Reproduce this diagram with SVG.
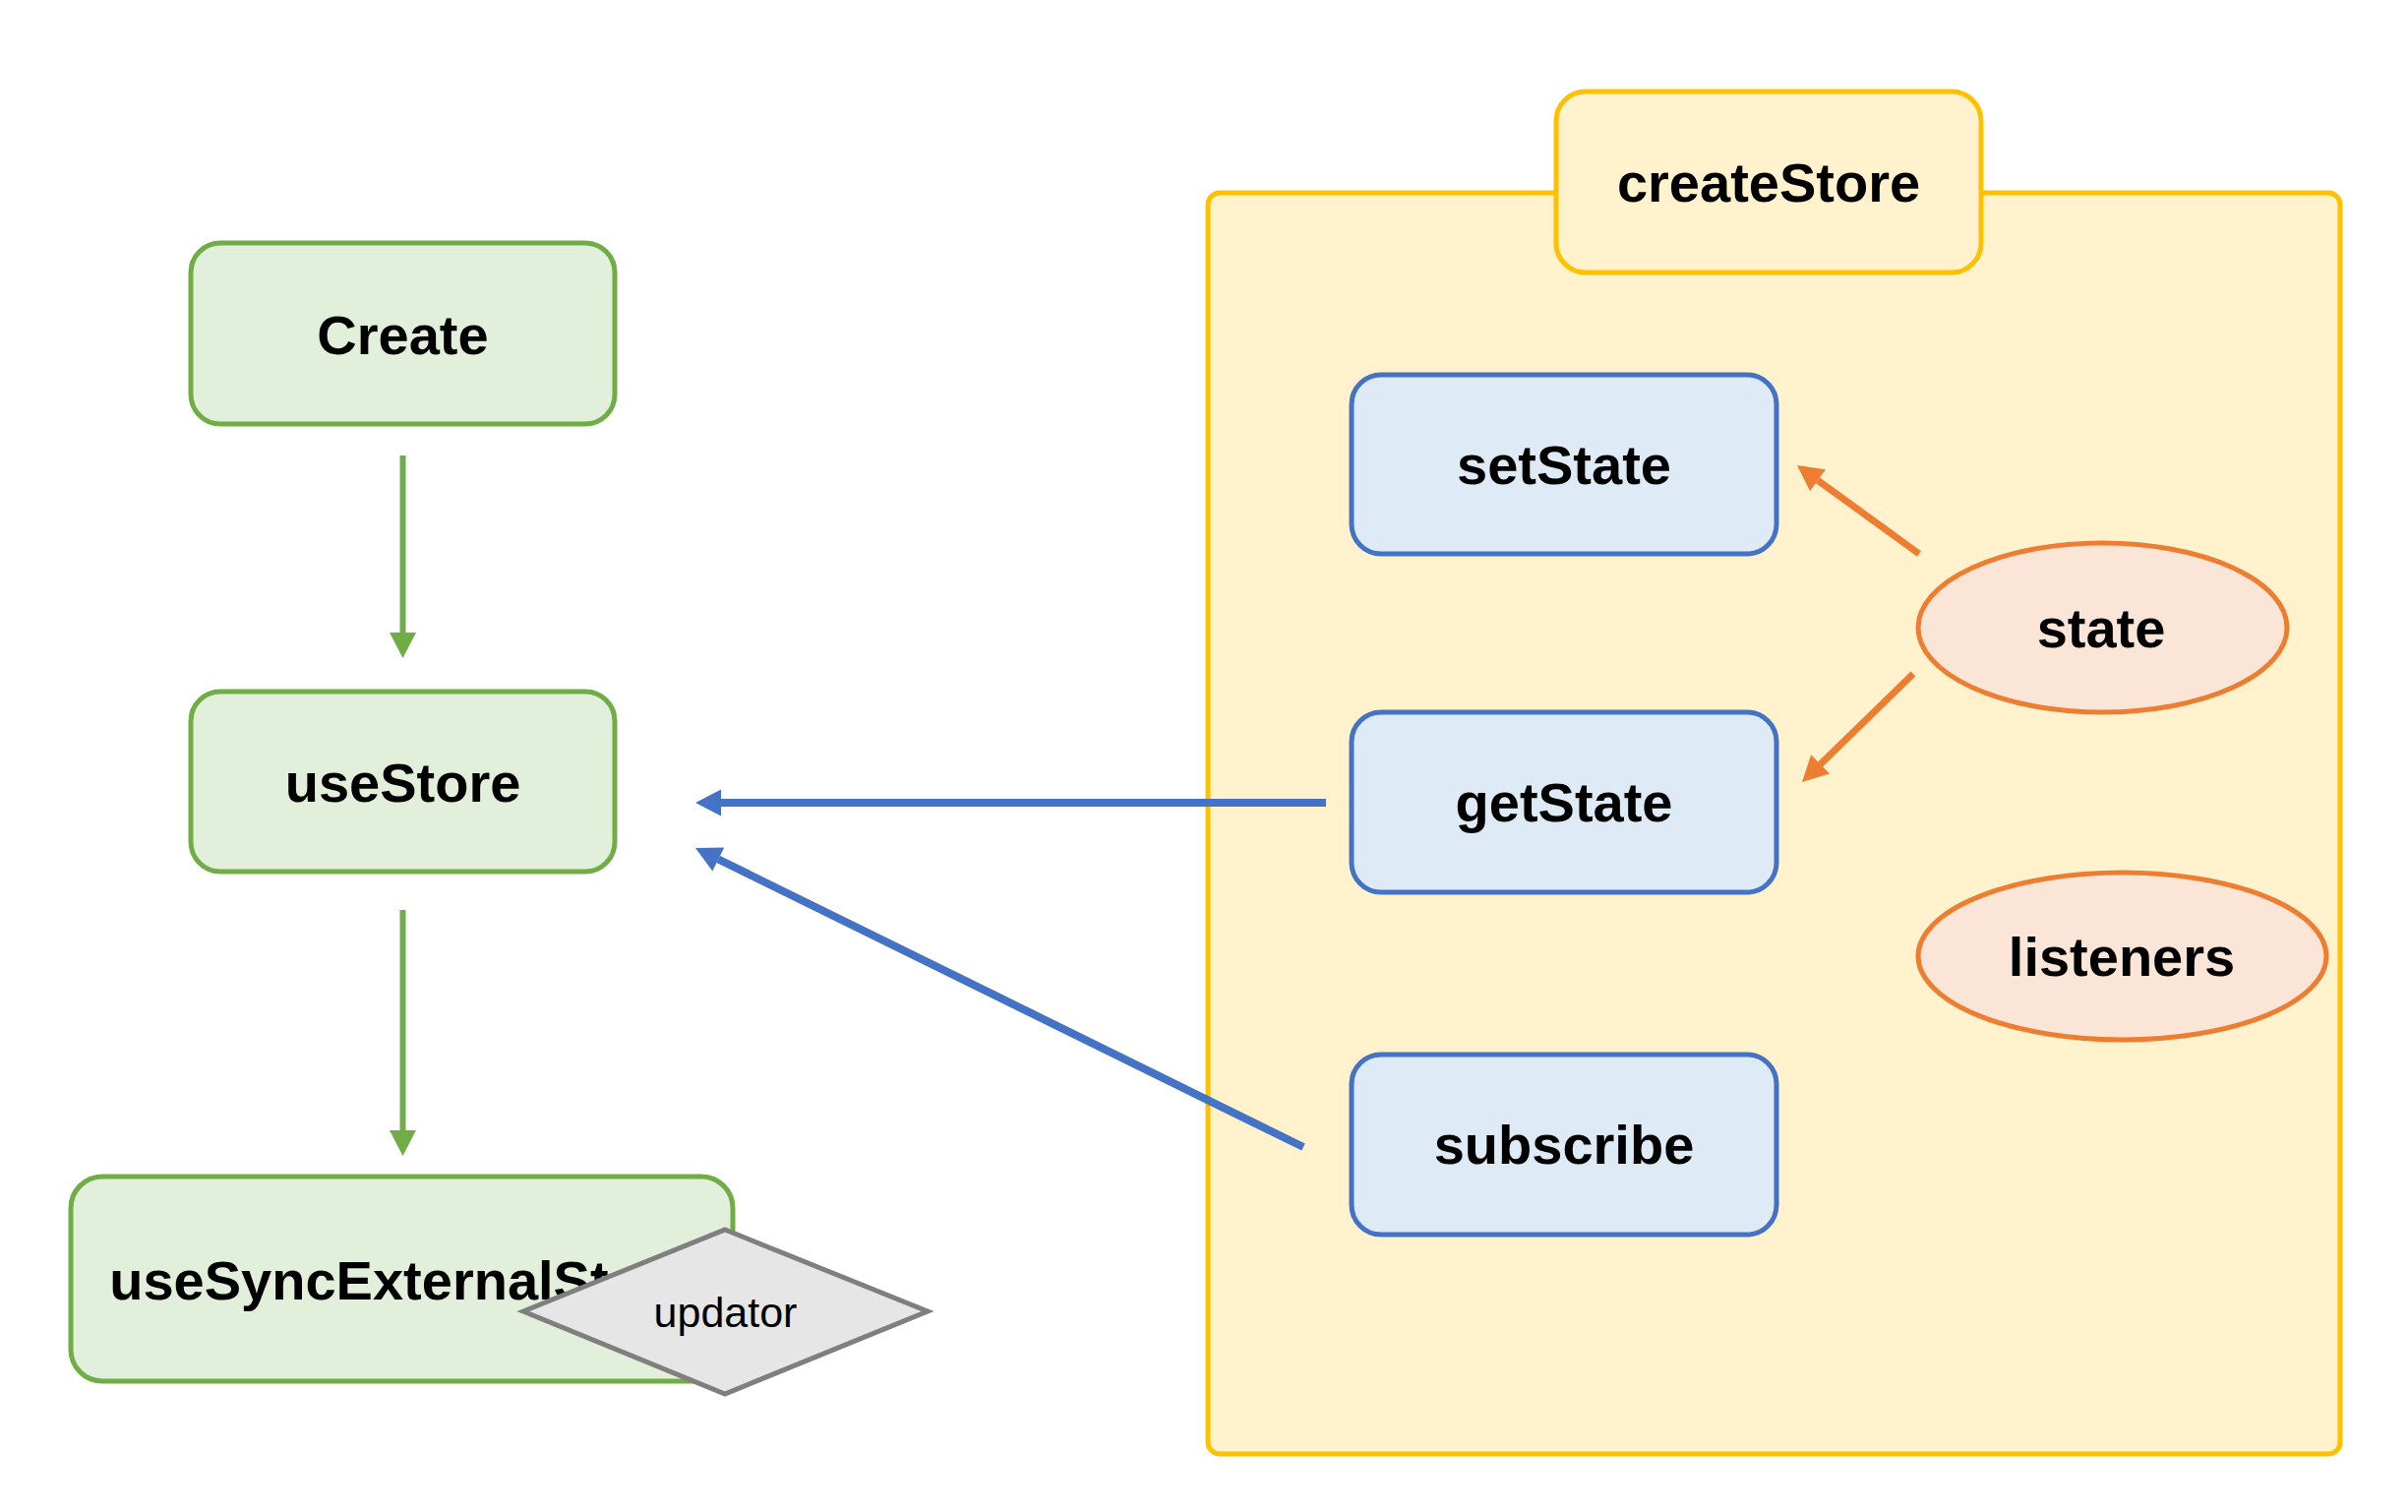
<svg xmlns="http://www.w3.org/2000/svg" width="2448" height="1537" viewBox="0 0 2448 1537">
<defs>
<style>
.lbl{font-family:"Liberation Sans",Arial,sans-serif;font-weight:bold;font-size:56px;fill:#000;text-anchor:middle}
.green{fill:#e2efda;stroke:#70ad47;stroke-width:5}
.blue{fill:#deebf7;stroke:#4472c4;stroke-width:5}
.orange{fill:#fbe5d6;stroke:#ed7d31;stroke-width:5}
.yellow{fill:#fff2cc;stroke:#ffc000;stroke-width:5}
.gl{stroke:#70ad47;stroke-width:6;fill:none}
.bl{stroke:#4472c4;stroke-width:8;fill:none}
.ol{stroke:#ed7d31;stroke-width:7;fill:none}
</style>
<marker id="ag" markerUnits="userSpaceOnUse" markerWidth="27" markerHeight="27" viewBox="0 -13.5 26 27" refX="0" refY="0" orient="auto" overflow="visible"><path d="M0,-13.5 L26,0 L0,13.5 Z" fill="#70ad47"/></marker>
<marker id="ab" markerUnits="userSpaceOnUse" markerWidth="27" markerHeight="27" viewBox="0 -13.5 26 27" refX="0" refY="0" orient="auto" overflow="visible"><path d="M0,-13.5 L26,0 L0,13.5 Z" fill="#4472c4"/></marker>
<marker id="ao" markerUnits="userSpaceOnUse" markerWidth="27" markerHeight="27" viewBox="0 -13.5 26 27" refX="0" refY="0" orient="auto" overflow="visible"><path d="M0,-13.5 L26,0 L0,13.5 Z" fill="#ed7d31"/></marker>
</defs>
<rect width="2448" height="1537" fill="#ffffff"/>

<g id="createStore-container">
<rect class="yellow" x="1228" y="196" width="1151" height="1282" rx="12"/>
</g>
<g id="createStore">
<rect class="yellow" x="1582" y="93" width="432" height="184" rx="30"/>
<text class="lbl" x="1798" y="205">createStore</text>
</g>

<g id="create">
<rect class="green" x="194" y="247" width="431" height="184" rx="30"/>
<text class="lbl" x="409.5" y="360">Create</text>
</g>
<g id="useStore">
<rect class="green" x="194" y="703" width="431" height="183" rx="30"/>
<text class="lbl" x="409.5" y="815">useStore</text>
</g>
<g id="useSyncExternalStore">
<rect class="green" x="72" y="1196" width="673" height="208" rx="32"/>
<text class="lbl" x="408.5" y="1321">useSyncExternalStore</text>
</g>
<g id="updator">
<polygon points="532,1333 737,1250 943,1333 737,1417" fill="#e7e6e6" stroke="#7f7f7f" stroke-width="5" stroke-linejoin="miter"/>
<text x="737.5" y="1349" font-family="'Liberation Sans',Arial,sans-serif" font-size="43" fill="#000" text-anchor="middle">updator</text>
</g>

<g id="setState">
<rect class="blue" x="1374" y="381" width="432" height="182" rx="30"/>
<text class="lbl" x="1590" y="492">setState</text>
</g>
<g id="getState">
<rect class="blue" x="1374" y="724" width="432" height="183" rx="30"/>
<text class="lbl" x="1590" y="835">getState</text>
</g>
<g id="subscribe">
<rect class="blue" x="1374" y="1072" width="432" height="183" rx="30"/>
<text class="lbl" x="1590" y="1183">subscribe</text>
</g>
<g id="state">
<ellipse class="orange" cx="2137.5" cy="638" rx="187.5" ry="86"/>
<text class="lbl" x="2136" y="658">state</text>
</g>
<g id="listeners">
<ellipse class="orange" cx="2157.5" cy="972" rx="207.5" ry="85"/>
<text class="lbl" x="2157" y="992">listeners</text>
</g>

<g id="connectors">
<line class="gl" x1="409.5" y1="463" x2="409.5" y2="643" marker-end="url(#ag)"/>
<line class="gl" x1="409.5" y1="925" x2="409.5" y2="1149" marker-end="url(#ag)"/>
<line class="bl" x1="1348" y1="816" x2="733" y2="816" marker-end="url(#ab)"/>
<line class="bl" x1="1325" y1="1166" x2="730.3" y2="873.5" marker-end="url(#ab)"/>
<line class="ol" x1="1951" y1="563" x2="1848" y2="488.3" marker-end="url(#ao)"/>
<line class="ol" x1="1945" y1="685" x2="1850.6" y2="776.9" marker-end="url(#ao)"/>
</g>
</svg>
